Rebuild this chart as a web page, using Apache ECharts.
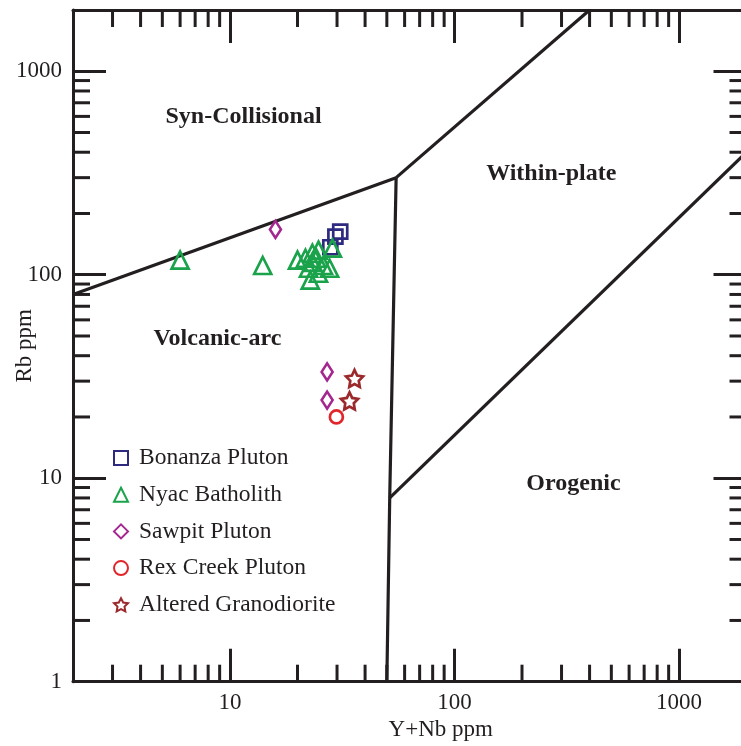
<!DOCTYPE html>
<html>
<head>
<meta charset="utf-8">
<title>Rb vs Y+Nb discrimination diagram</title>
<script src="https://cdn.jsdelivr.net/npm/echarts@6/dist/echarts.min.js"></script>
<style>
  html, body { margin: 0; padding: 0; background: #fff; }
  #chart { width: 741px; height: 746px; }
</style>
</head>
<body>
<div id="chart"></div>
<script>
// Sample values: [Y+Nb ppm, Rb ppm]
const bonanzaPluton = [[31.0, 163], [29.5, 154], [28.0, 136.5]];
const nyacBatholith = [
  [6.0, 118], [14.0, 111], [20.0, 118], [21.7, 120.5], [23.3, 127.5],
  [24.8, 132], [23.3, 115], [22.4, 107.6], [26.1, 111], [27.8, 107.6],
  [24.8, 101.7], [22.8, 94], [28.6, 135], [24.3, 120.5]
];
const sawpitPluton = [[15.95, 167], [27.1, 33.3], [27.1, 24.2]];
const rexCreekPluton = [[29.8, 20.0]];
const alteredGranodiorite = [[35.9, 30.9], [34.1, 24.0]];

// Field boundaries (Pearce et al., 1984)
const synColVagBoundary = [[2, 80], [55, 300]];
const wpgSynColBoundary = [[55, 300], [400, 2000]];
const vagWpgBoundary = [[55, 300], [51.5, 8], [50, 1]];
const orgWpgBoundary = [[51.5, 8], [2000, 400]];

// Field names and where they sit
const fieldLabels = [
  { name: 'Syn-Collisional', value: [11.5, 594] },
  { name: 'Within-plate', value: [270, 315] },
  { name: 'Volcanic-arc', value: [8.8, 48.2] },
  { name: 'Orogenic', value: [339, 9.35] }
];

// Axis ranges, labelled ticks and minor ticks
const xRange = [2, 2000];
const yRange = [1, 2000];
const tickLabels = [1, 10, 100, 1000];
const xMinorTicks = [3, 4, 5, 6, 7, 8, 9, 20, 30, 40, 50, 60, 70, 80, 90,
                     200, 300, 400, 500, 600, 700, 800, 900];
const yMinorTicks = [2, 3, 4, 5, 6, 7, 8, 9, 20, 30, 40, 50, 60, 70, 80, 90,
                     200, 300, 400, 500, 600, 700, 800, 900];

const INK = '#231f20';
const FONT = '"Liberation Serif", "Times New Roman", serif';
const STAR = 'path://M10,0 L12.94,5.95 L19.51,6.91 L14.76,11.55 L15.88,18.09 L10,15 L4.12,18.09 L5.24,11.55 L0.49,6.91 L7.06,5.95 Z';

function labelOnly(v) {
  const r = Math.round(v);
  return tickLabels.indexOf(r) >= 0 && Math.abs(v - r) < 1e-6 * r ? String(r) : '';
}

function axisCommon(extra) {
  return Object.assign({
    type: 'log',
    logBase: 10,
    axisLine: { show: true, onZero: false, lineStyle: { color: INK, width: 3 } },
    axisTick: { show: true, inside: true, length: 33, lineStyle: { color: INK, width: 3 } },
    splitLine: { show: false },
    minorTick: { show: false },
    minorSplitLine: { show: false },
    nameMoveOverlap: false
  }, extra);
}

const MINOR_LEN = 17;

function hollow(name, data, symbol, size, color) {
  return {
    name: name,
    type: 'scatter',
    data: data,
    symbol: symbol,
    symbolSize: size,
    itemStyle: { color: 'rgba(255,255,255,0)', borderColor: color, borderWidth: 2.7, opacity: 1 },
    emphasis: { disabled: true },
    z: 5
  };
}

function boundary(data) {
  return {
    type: 'line',
    data: data,
    symbol: 'none',
    silent: true,
    lineStyle: { color: INK, width: 3.2 },
    z: 3
  };
}

const chart = echarts.init(document.getElementById('chart'), null, { renderer: 'canvas' });

chart.setOption({
  animation: false,
  backgroundColor: '#fff',
  grid: { left: 73, top: 10, right: -5.5, bottom: 64.3, containLabel: false, outerBoundsMode: 'none' },
  xAxis: [
    axisCommon({
      min: xRange[0], max: xRange[1], position: 'bottom',
      axisLabel: { formatter: labelOnly, color: INK, fontFamily: FONT, fontSize: 23, margin: 10,
                   showMinLabel: true, showMaxLabel: true },
      name: 'Y+Nb ppm', nameLocation: 'middle', nameGap: 37,
      nameTextStyle: { color: INK, fontFamily: FONT, fontSize: 23, padding: [0, 0, 0, 62] }
    }),
    axisCommon({
      min: xRange[0], max: xRange[1], position: 'top',
      axisLabel: { show: false }
    })
  ],
  yAxis: [
    axisCommon({
      min: yRange[0], max: yRange[1], position: 'left',
      axisLabel: { formatter: labelOnly, color: INK, fontFamily: FONT, fontSize: 23, margin: 11,
                   showMinLabel: true, showMaxLabel: true },
      name: 'Rb ppm', nameLocation: 'middle', nameGap: 37, nameRotate: 90,
      nameTextStyle: { color: INK, fontFamily: FONT, fontSize: 23 }
    }),
    axisCommon({
      min: yRange[0], max: yRange[1], position: 'right',
      axisLabel: { show: false }
    })
  ],
  legend: {
    orient: 'vertical',
    left: 113,
    top: 446,
    padding: 0,
    itemWidth: 14,
    itemHeight: 14,
    itemGap: 12.7,
    selectedMode: false,
    textStyle: { color: INK, fontFamily: FONT, fontSize: 23.5, lineHeight: 24, padding: [0, 0, 0, 6] },
    data: ['Bonanza Pluton', 'Nyac Batholith', 'Sawpit Pluton', 'Rex Creek Pluton', 'Altered Granodiorite']
  },
  series: [
    boundary(synColVagBoundary),
    boundary(wpgSynColBoundary),
    boundary(vagWpgBoundary),
    boundary(orgWpgBoundary),
    {
      // minor ticks along the bottom and top edges
      type: 'custom',
      silent: true,
      data: xMinorTicks.map(v => [v, yRange[0]]),
      renderItem: function (params, api) {
        const cs = params.coordSys;
        const px = api.coord([api.value(0), api.value(1)])[0];
        const bottom = cs.y + cs.height;
        const style = { stroke: INK, lineWidth: 3 };
        return {
          type: 'group',
          children: [
            { type: 'line', shape: { x1: px, y1: bottom, x2: px, y2: bottom - MINOR_LEN }, style: style },
            { type: 'line', shape: { x1: px, y1: cs.y, x2: px, y2: cs.y + MINOR_LEN }, style: style }
          ]
        };
      },
      z: 2
    },
    {
      // minor ticks along the left and right edges
      type: 'custom',
      silent: true,
      data: yMinorTicks.map(v => [xRange[0], v]),
      renderItem: function (params, api) {
        const cs = params.coordSys;
        const py = api.coord([api.value(0), api.value(1)])[1];
        const right = cs.x + cs.width;
        const style = { stroke: INK, lineWidth: 3 };
        return {
          type: 'group',
          children: [
            { type: 'line', shape: { x1: cs.x, y1: py, x2: cs.x + MINOR_LEN, y2: py }, style: style },
            { type: 'line', shape: { x1: right, y1: py, x2: right - MINOR_LEN, y2: py }, style: style }
          ]
        };
      },
      z: 2
    },
    {
      type: 'scatter',
      silent: true,
      data: fieldLabels,
      symbolSize: 0,
      itemStyle: { opacity: 1 },
      label: {
        show: true, position: 'inside', formatter: '{b}',
        color: INK, fontFamily: FONT, fontSize: 24, fontWeight: 'bold'
      },
      z: 4
    },
    hollow('Bonanza Pluton', bonanzaPluton, 'rect', 14, '#2e2a80'),
    hollow('Nyac Batholith', nyacBatholith, 'triangle', 17, '#1ba34b'),
    hollow('Sawpit Pluton', sawpitPluton, 'diamond', [11, 17], '#a3278f'),
    hollow('Rex Creek Pluton', rexCreekPluton, 'circle', 13, '#e1262b'),
    hollow('Altered Granodiorite', alteredGranodiorite, STAR, 17, '#9b2a2c')
  ]
});
</script>
</body>
</html>
